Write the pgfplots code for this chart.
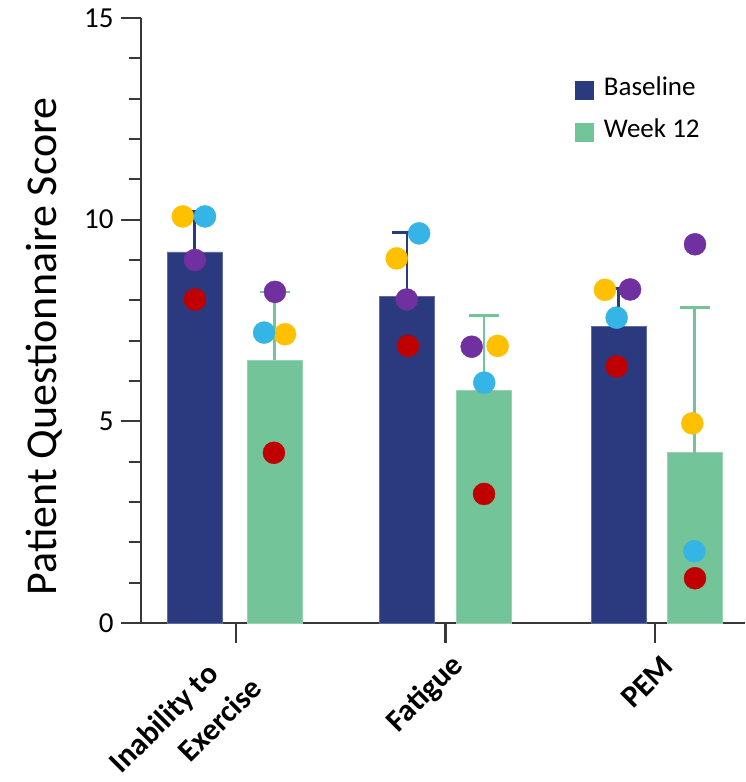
\documentclass[border=0pt]{standalone}
\usepackage{pgfplots}
\pgfplotsset{compat=1.18}
\usepackage{fontspec}
\setmainfont{Carlito}
\definecolor{navyb}{HTML}{2B397F}
\definecolor{greenw}{HTML}{74C499}
\definecolor{dyel}{HTML}{FFC000}
\definecolor{dblue}{HTML}{35B4E6}
\definecolor{dpurp}{HTML}{7030A0}
\definecolor{dred}{HTML}{C00000}
\definecolor{axgray}{HTML}{383838}
\begin{document}
\begin{tikzpicture}
\begin{axis}[
  name=ax,
  at={(0,0)}, anchor=south west,
  scale only axis,
  width=604pt, height=605pt,
  xmin=-0.4535, xmax=2.4296,
  ymin=0, ymax=15,
  axis x line*=bottom, axis y line*=left,
  axis line style={-, line width=2.7pt, color=axgray},
  tick style={line width=2.3pt, color=axgray},
  tick align=outside,
  major tick length=20pt, minor tick length=12pt,
  ytick={0,5,10,15}, minor y tick num=4,
  xtick={0,1,2},
  xticklabels={{Inability to\hspace*{31pt}\\[9pt]Exercise\hspace*{10pt}},{Fatigue},{PEM}},
  /pgf/number format/assume math mode=true,
  yticklabel style={font=\fontsize{29}{30}\selectfont, xshift=-4pt},
  xticklabel style={font=\bfseries\fontsize{31}{32}\selectfont, inner sep=0pt,
    xshift=13pt, yshift=-18pt, rotate=45, anchor=east, align=right},
  ylabel={Patient Questionnaire Score},
  every axis y label/.style={at={(rel axis cs:-0.1606,0.457)}, rotate=90, anchor=center,
    font=\fontsize{44}{48}\selectfont},
  clip=false,
  legend style={at={(rel axis cs:0.7185,0.9)}, anchor=north west, draw=none, fill=none,
    font=\fontsize{27}{30}\selectfont, inner sep=0pt, row sep=19pt, column sep=8pt,
    nodes={inner sep=2pt, text height=15pt, text depth=4pt}},
  legend cell align=left,
]
\addplot[ybar, bar width=0.2625, bar shift=0pt, fill=navyb, draw=navyb!75!white, line width=0.8pt,
  legend image code/.code={\fill[navyb] (0pt,-9pt) rectangle (18pt,9pt);},
  error bars/.cd, y dir=plus, y explicit, error mark=|,
  error bar style={line width=2.7pt, color=navyb},
  error mark options={line width=2.7pt, mark size=15pt, color=navyb}]
  coordinates {(-0.198,9.20) +- (0,1.00) (0.816,8.09) +- (0,1.59) (1.826,7.36) +- (0,0.94)};
\addlegendentry{Baseline}
\addplot[ybar, bar width=0.2625, bar shift=0pt, fill=greenw, draw=greenw!75!white, line width=0.8pt,
  legend image code/.code={\fill[greenw] (0pt,-9pt) rectangle (18pt,9pt);},
  error bars/.cd, y dir=plus, y explicit, error mark=|,
  error bar style={line width=2.7pt, color=greenw},
  error mark options={line width=2.7pt, mark size=15pt, color=greenw}]
  coordinates {(0.184,6.52) +- (0,1.69) (1.184,5.76) +- (0,1.86) (2.189,4.22) +- (0,3.61)};
\addlegendentry{Week 12}
\addplot[only marks, mark=*, mark size=11pt, color=dred, forget plot]
  coordinates {(-0.196,8.02) (0.181,4.22) (0.821,6.87) (1.184,3.20) (1.817,6.36) (2.191,1.11)};
\addplot[only marks, mark=*, mark size=11pt, color=dpurp, forget plot]
  coordinates {(-0.196,9.00) (0.186,8.21) (0.815,8.02) (1.125,6.85) (1.881,8.27) (2.191,9.39)};
\addplot[only marks, mark=*, mark size=11pt, color=dyel, forget plot]
  coordinates {(-0.254,10.08) (0.234,7.16) (0.767,9.04) (1.249,6.87) (1.761,8.26) (2.178,4.95)};
\addplot[only marks, mark=*, mark size=11pt, color=dblue, forget plot]
  coordinates {(-0.148,10.08) (0.134,7.20) (0.874,9.66) (1.185,5.96) (1.817,7.57) (2.188,1.78)};
\end{axis}
\pgfresetboundingbox
\path[use as bounding box] ([shift={(-141pt,-159pt)}]ax.south west) rectangle ([shift={(0pt,18pt)}]ax.north east);
\end{tikzpicture}
\end{document}
